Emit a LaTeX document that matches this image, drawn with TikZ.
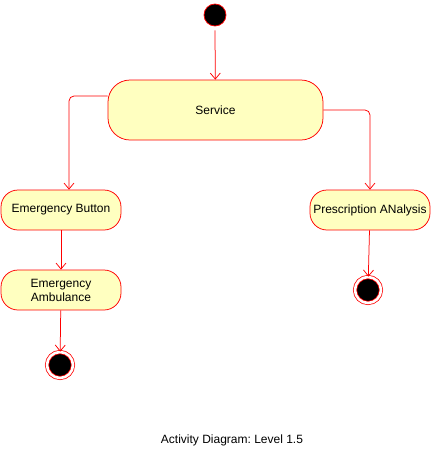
\documentclass[tikz,border=0pt]{standalone}
\usepackage{fontspec}
\setmainfont{Liberation Sans}
\frenchspacing
\usetikzlibrary{arrows.meta}
\definecolor{actfill}{HTML}{FFFFC0}
\tikzstyle{activity} = [rectangle, rounded corners=17pt, minimum width=120pt, minimum height=40pt, text centered, draw=red, fill=actfill, font=\fontsize{12}{14}\selectfont, align=center]
\tikzstyle{startnode} = [circle, minimum size=22pt, inner sep=0pt, draw=red, fill=black]
\tikzstyle{endnode} = [circle, minimum size=26pt, inner sep=0pt, draw=red, fill=black, double=white, double distance=2.6pt]
\tikzstyle{edge} = [red, -{Straight Barb[length=6pt, width=10pt]}]

\begin{document}
\begin{tikzpicture}[x=1pt, y=-1pt, line width=0.75pt]
\useasboundingbox (0,0) rectangle (431,451);

\node (0) [startnode] at (215,15) {};
\node (1) [activity, minimum width=215pt, minimum height=60pt, rounded corners=22pt] at (215.5,110) {Service};
\node (2) [activity] at (61,210) {Emergency Button};
\node (3) [activity] at (370,210) {Prescription ANalysis};
\node (4) [activity] at (61,290) {Emergency\\Ambulance};
\node (5) [endnode] at (60,365) {};
\node (6) [endnode] at (368,290) {};
\node (7) [font=\fontsize{12}{14}\selectfont] at (232,440) {Activity Diagram: Level 1.5};

\draw [edge] ([yshift=-4pt]0.south) -- (1);
\draw [edge, rounded corners=5pt] ([yshift=14pt]1.west) -| ([xshift=8pt]2.north);
\draw [edge, rounded corners=5pt] (1.east) -| (3.north);
\draw [edge] (2) -- (4);
\draw [edge] (4) -- (5);
\draw [edge] (3) -- (6);

\end{tikzpicture}
\end{document}
